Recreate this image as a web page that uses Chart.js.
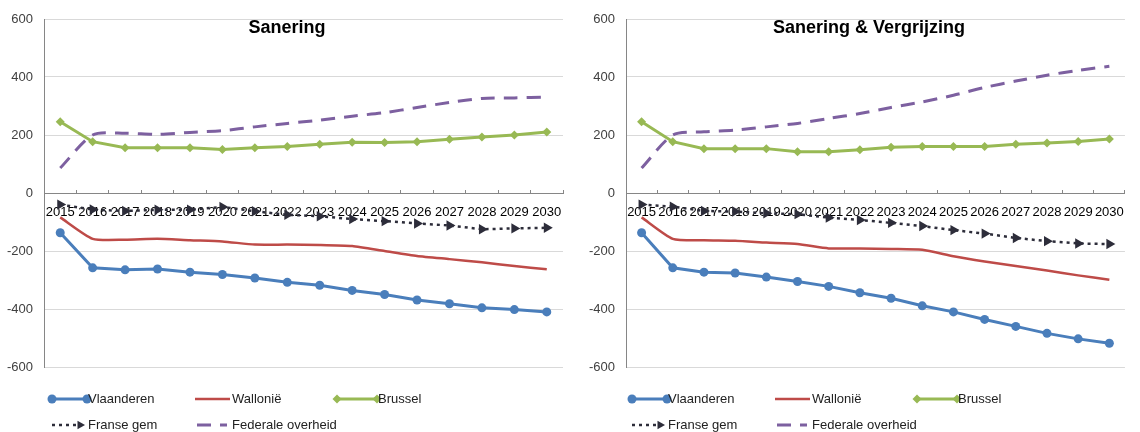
<!DOCTYPE html>
<html>
<head>
<meta charset="utf-8">
<script src="https://cdn.jsdelivr.net/npm/chart.js@4.4.0/dist/chart.umd.min.js"></script>
<style>
    body { margin: 0; background: #fff; }
    #wrap { display: flex; width: 1140px; height: 432px; }
    canvas { display: block; }
</style>
</head>
<body>
<div id="wrap">
    <canvas id="chartSan" width="582" height="432"></canvas>
    <canvas id="chartVerg" width="558" height="432"></canvas>
</div>
<script>
// jaren op de x-as
const years = ['2015', '2016', '2017', '2018', '2019', '2020', '2021', '2022',
    '2023', '2024', '2025', '2026', '2027', '2028', '2029', '2030'];

// Sanering
const vlaanderenSan = [-137, -258, -265, -262, -273, -281, -293, -308, -318, -336, -350, -369, -382, -396, -402, -410];
const walloniaSan = [-84, -158, -161, -158, -163, -167, -178, -178, -179, -183, -200, -217, -228, -239, -252, -263];
const brusselSan = [246, 177, 156, 156, 156, 150, 156, 160, 168, 175, 174, 177, 185, 193, 200, 210];
const franseSan = [-40, -57, -62, -58, -58, -48, -63, -75, -80, -90, -97, -105, -112, -125, -122, -120];
const federaalSan = [86, 200, 206, 202, 209, 215, 228, 240, 251, 265, 277, 295, 312, 326, 328, 331];

// Sanering & Vergrijzing
const vlaanderenVerg = [-137, -258, -273, -276, -290, -305, -322, -344, -363, -389, -410, -436, -460, -484, -503, -518];
const walloniaVerg = [-84, -158, -163, -165, -171, -176, -191, -191, -193, -196, -218, -236, -252, -267, -284, -299];
const brusselVerg = [246, 177, 153, 153, 153, 142, 142, 149, 158, 160, 160, 160, 168, 172, 178, 186];
const franseVerg = [-40, -47, -62, -64, -70, -73, -85, -93, -103, -114, -128, -140, -155, -166, -174, -176];
const federaalVerg = [86, 200, 211, 217, 228, 240, 257, 274, 295, 314, 337, 364, 386, 406, 423, 437];

const yMin = -600, yMax = 600, yStep = 200;

const FONT = '"Liberation Sans", Arial, sans-serif';

function makeDatasets(vl, wa, br, fr, fe) {
    return [{
        label: 'Vlaanderen',
        data: vl,
        borderColor: '#4a7ebb',
        backgroundColor: '#4a7ebb',
        borderWidth: 3,
        pointStyle: 'circle',
        pointRadius: 4.5,
        pointBorderWidth: 0,
        tension: 0
    },
    {
        label: 'Wallonië',
        data: wa,
        borderColor: '#be4b48',
        backgroundColor: '#be4b48',
        borderWidth: 2.5,
        pointRadius: 0,
        tension: 0.2
    },
    {
        label: 'Brussel',
        data: br,
        borderColor: '#98b954',
        backgroundColor: '#98b954',
        borderWidth: 3,
        pointStyle: 'rectRot',
        pointRadius: 4.5,
        pointBorderWidth: 0,
        tension: 0
    },
    {
        label: 'Franse gem',
        data: fr,
        borderColor: '#2d2d3a',
        backgroundColor: '#2d2d3a',
        borderWidth: 2.5,
        borderDash: [3, 4],
        pointStyle: 'triangle',
        rotation: 90,
        pointRadius: 6,
        pointBorderWidth: 0,
        tension: 0
    },
    {
        label: 'Federale overheid',
        data: fe,
        borderColor: '#7d60a0',
        backgroundColor: '#7d60a0',
        borderWidth: 3,
        borderDash: [14, 9],
        pointRadius: 0,
        tension: 0.25
    }];
}

// titel in de grafiek
const titlePlugin = {
    id: 'innerTitle',
    afterDraw(chart, args, opts) {
        const ctx = chart.ctx;
        ctx.save();
        ctx.font = 'bold 18px ' + FONT;
        ctx.fillStyle = '#000';
        ctx.textAlign = 'center';
        ctx.textBaseline = 'middle';
        ctx.fillText(opts.text, opts.x, opts.y);
        ctx.restore();
    }
};

function drawMarker(ctx, style, x, y, r, color) {
    ctx.fillStyle = color;
    ctx.beginPath();
    if (style === 'circle') {
        ctx.arc(x, y, r, 0, Math.PI * 2);
    } else if (style === 'rectRot') {
        ctx.moveTo(x, y - r);
        ctx.lineTo(x + r, y);
        ctx.lineTo(x, y + r);
        ctx.lineTo(x - r, y);
    } else if (style === 'triangle') {
        ctx.moveTo(x + r, y);
        ctx.lineTo(x - r / 2, y - r * 0.87);
        ctx.lineTo(x - r / 2, y + r * 0.87);
    }
    ctx.closePath();
    ctx.fill();
}

// legenda zoals in Excel: 3 + 2 items
const legendPlugin = {
    id: 'excelLegend',
    afterDraw(chart, args, opts) {
        const ctx = chart.ctx;
        const dx = opts.dx || 0;
        const items = [
            { ds: 0, x1: 52, x2: 87, tx: 88, y: 399, ends: true },
            { ds: 1, x1: 195, x2: 230, tx: 232, y: 399 },
            { ds: 2, x1: 337, x2: 377, tx: 378, y: 399, ends: true },
            { ds: 3, x1: 52, x2: 76, tx: 88, y: 425, arrow: 80 },
            { ds: 4, x1: 197, x2: 227, tx: 232, y: 425 }
        ];
        ctx.save();
        items.forEach(it => {
            const d = chart.data.datasets[it.ds];
            ctx.strokeStyle = d.borderColor;
            ctx.lineWidth = d.borderWidth;
            ctx.setLineDash(d.borderDash || []);
            ctx.beginPath();
            ctx.moveTo(it.x1 + dx, it.y);
            ctx.lineTo(it.x2 + dx, it.y);
            ctx.stroke();
            ctx.setLineDash([]);
            if (it.ends) {
                drawMarker(ctx, d.pointStyle, it.x1 + dx, it.y, d.pointRadius, d.backgroundColor);
                drawMarker(ctx, d.pointStyle, it.x2 + dx, it.y, d.pointRadius, d.backgroundColor);
            }
            if (it.arrow) {
                drawMarker(ctx, 'triangle', it.arrow + dx, it.y, 5, d.backgroundColor);
            }
            ctx.font = '13px ' + FONT;
            ctx.fillStyle = '#222';
            ctx.textAlign = 'left';
            ctx.textBaseline = 'middle';
            ctx.fillText(d.label, it.tx + dx, it.y);
        });
        ctx.restore();
    }
};

function setupNewGraph(id, datasets, title, padRight, legendDx) {
    const _ctx = document.getElementById(id);
    const config = {
        type: 'line',
        data: {
            labels: years,
            datasets: datasets
        },
        plugins: [titlePlugin, legendPlugin],
        options: {
            responsive: false,
            animation: false,
            events: [],
            layout: {
                padding: { top: 19, right: padRight, bottom: 65, left: 0 }
            },
            scales: {
                x: {
                    type: 'category',
                    offset: true,
                    position: { y: 0 },
                    grid: {
                        offset: true,
                        drawOnChartArea: false,
                        drawTicks: true,
                        tickLength: -4,
                        color: '#868686'
                    },
                    border: { display: true, color: '#868686', width: 1 },
                    ticks: {
                        padding: 16,
                        maxRotation: 0,
                        autoSkip: false,
                        color: '#000',
                        font: { family: FONT, size: 13 }
                    }
                },
                y: {
                    min: yMin,
                    max: yMax,
                    grid: {
                        drawTicks: false,
                        color: ctx => ctx.tick && ctx.tick.value === 0 ? '#868686' : '#d9d9d9'
                    },
                    border: { display: true, color: '#868686', width: 1 },
                    ticks: {
                        stepSize: yStep,
                        padding: 11,
                        color: '#404040',
                        font: { family: FONT, size: 13 }
                    },
                    afterFit: scale => { scale.width = 44; }
                }
            },
            plugins: {
                legend: { display: false },
                tooltip: { enabled: false },
                innerTitle: { text: title, x: 287, y: 28 },
                excelLegend: { dx: legendDx }
            }
        }
    };
    return new Chart(_ctx, config);
}

var chartSan = setupNewGraph('chartSan',
    makeDatasets(vlaanderenSan, walloniaSan, brusselSan, franseSan, federaalSan),
    'Sanering', 19, 0);
var chartVerg = setupNewGraph('chartVerg',
    makeDatasets(vlaanderenVerg, walloniaVerg, brusselVerg, franseVerg, federaalVerg),
    'Sanering & Vergrijzing', 2, -2);
</script>
</body>
</html>
